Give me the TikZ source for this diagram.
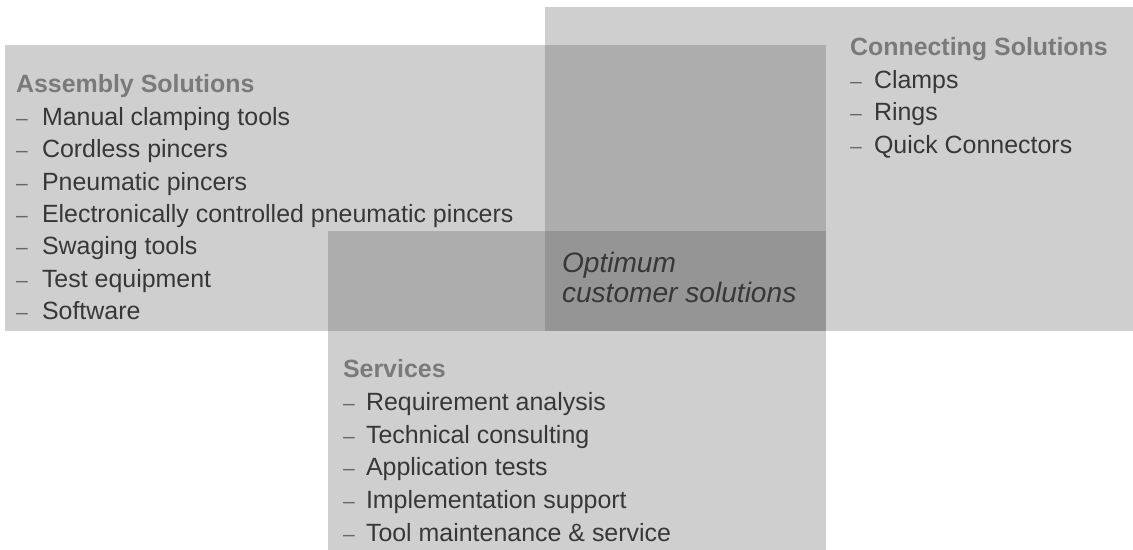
\documentclass[tikz,border=0pt]{standalone}
\usepackage{fontspec}
\setmainfont{Liberation Sans}
\usetikzlibrary{positioning}

\definecolor{boxgray}{RGB}{90,90,90}
\definecolor{headgray}{RGB}{122,122,122}
\definecolor{itemgray}{RGB}{55,55,55}
\definecolor{dashgray}{RGB}{105,105,105}

\tikzset{
	area/.style = {fill=boxgray, fill opacity=0.29, draw=none},
	head/.style = {anchor=base west, inner sep=0pt, outer sep=0pt,
		text=headgray, font=\fontsize{14.2}{17}\selectfont\bfseries},
	item/.style = {anchor=base west, inner sep=0pt, outer sep=0pt,
		text=itemgray, font=\fontsize{14.2}{17}\selectfont},
	dashmark/.style = {anchor=base west, inner sep=0pt, outer sep=0pt,
		text=dashgray, font=\fontsize{12}{17}\selectfont},
	goal/.style = {anchor=base west, inner sep=0pt, outer sep=0pt,
		text=itemgray, font=\fontsize{16}{17}\selectfont\itshape}
}

\begin{document}
\begin{tikzpicture}[x=0.02cm, y=-0.02cm]
		\useasboundingbox (0,0) rectangle (1133,550);
		% the three overlapping fields
		\fill[area] (5,45) rectangle (826,331);
		\fill[area] (545,7) rectangle (1133,331);
		\fill[area] (328,231) rectangle (826,550);
		
		% assembly
		\node[head] (ashead) at (16,93) {Assembly Solutions};
		\foreach \txt [count=\i] in {Manual clamping tools, Cordless pincers,
			Pneumatic pincers, Electronically controlled pneumatic pincers,
			Swaging tools, Test equipment, Software} {
			\node[dashmark] (asdash\i) at (16, {93+32.4*\i}) {–};
			\node[item] (as\i) at (42, {93+32.4*\i}) {\txt};
		}
		
		% connecting
		\node[head] (cohead) at (850,56) {Connecting Solutions};
		\foreach \txt [count=\i] in {Clamps, Rings, Quick Connectors} {
			\node[dashmark] (codash\i) at (850, {56+32.4*\i}) {–};
			\node[item] (co\i) at (874, {56+32.4*\i}) {\txt};
		}
		
		% services
		\node[head] (sehead) at (343,378) {Services};
		\foreach \txt [count=\i] in {Requirement analysis, Technical consulting,
			Application tests, Implementation support, Tool maintenance \& service} {
			\node[dashmark] (sedash\i) at (343, {378+32.6*\i}) {–};
			\node[item] (se\i) at (366, {378+32.6*\i}) {\txt};
		}
		
		% overlap of all three
		\node[goal] (goal1) at (562,273) {Optimum};
		\node[goal] (goal2) at (562,303) {customer solutions};
	\end{tikzpicture}
\end{document}
